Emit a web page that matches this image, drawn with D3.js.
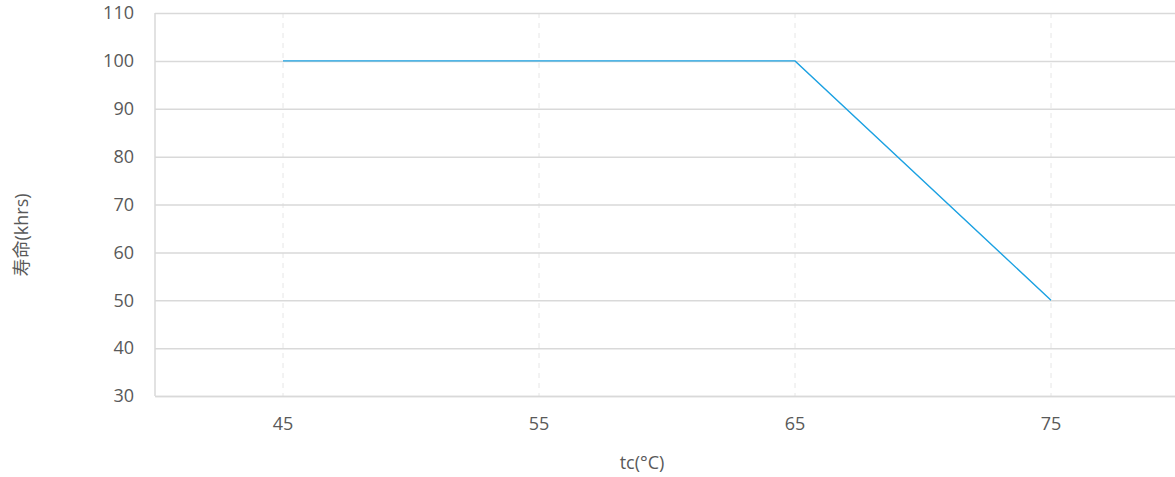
<!DOCTYPE html>
<html>
<head>
<meta charset="utf-8">
<script src="https://cdn.jsdelivr.net/npm/d3@7"></script>
<style>
  html, body { margin: 0; padding: 0; background: #fff; overflow: hidden; }
  svg { display: block; }
  svg text { font-family: "Open Sans", "Noto Sans", "Noto Sans CJK SC", sans-serif; }
</style>
</head>
<body>
<svg id="chart" width="1175" height="477"></svg>
<script>
// data
const categories = ['45', '55', '65', '75'];
const lifeValues = [100, 100, 100, 50];
const yTicks = [30, 40, 50, 60, 70, 80, 90, 100, 110];

const svg = d3.select('#chart');
var margin = { top: 13, left: 155 };
const innerWidth = 1024;
const innerHeight = 383;

const xScale = d3.scaleBand()
    .domain(categories)
    .range([0, innerWidth]);
const yScale = d3.scaleLinear()
    .domain([30, 110])
    .range([innerHeight, 0]);

const g = svg.append('g')
    .attr('transform', `translate(${margin.left},${margin.top})`);

// vertical dashed grid through each category
g.append('g')
    .selectAll('line')
    .data(categories)
    .enter()
    .append('line')
    .attr('x1', d => xScale(d) + xScale.bandwidth() / 2)
    .attr('x2', d => xScale(d) + xScale.bandwidth() / 2)
    .attr('y1', 0)
    .attr('y2', innerHeight)
    .style('stroke', '#e6e6e6')
    .style('stroke-width', 1)
    .style('stroke-dasharray', '5,5');

// horizontal grid + y labels
const yAxis = g.append('g')
    .call(d3.axisLeft(yScale).tickValues(yTicks).tickSize(-innerWidth).tickPadding(21))
    .attr('font-family', null);
yAxis.select('.domain').remove();
yAxis.selectAll('.tick line')
    .style('stroke', '#d9d9d9')
    .style('stroke-width', 1.5);
yAxis.selectAll('.tick text')
    .style('fill', '#595959')
    .style('font-size', '18px');

// left axis line
g.append('line')
    .attr('x1', 0).attr('x2', 0)
    .attr('y1', 0).attr('y2', innerHeight)
    .style('stroke', '#d9d9d9')
    .style('stroke-width', 1.5);

// x axis labels
const xAxis = g.append('g')
    .attr('transform', `translate(0,${innerHeight})`)
    .call(d3.axisBottom(xScale).tickSize(0).tickPadding(21))
    .attr('font-family', null);
xAxis.select('.domain')
    .style('stroke', '#d9d9d9')
    .style('stroke-width', 1.5);
xAxis.selectAll('.tick text')
    .style('fill', '#595959')
    .style('font-size', '18px');

// line
const line = d3.line()
    .x((d, i) => xScale(categories[i]) + xScale.bandwidth() / 2)
    .y(d => yScale(d));

g.append('path')
    .datum(lifeValues)
    .attr('d', line)
    .style('fill', 'none')
    .style('stroke', '#1ba1e2')
    .style('stroke-width', 1.4);

// axis titles
svg.append('text')
    .attr('x', 642)
    .attr('y', 469)
    .style('text-anchor', 'middle')
    .style('font-size', '18px')
    .style('fill', '#595959')
    .text('tc(°C)');

svg.append('text')
    .attr('transform', 'translate(28,235) rotate(-90)')
    .style('text-anchor', 'middle')
    .style('font-size', '18px')
    .style('fill', '#595959')
    .text('寿命(khrs)');
</script>
</body>
</html>
